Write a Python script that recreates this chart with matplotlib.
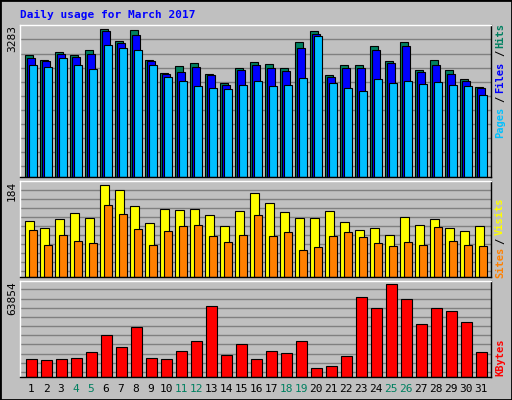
import matplotlib
matplotlib.use("Agg")
import matplotlib.pyplot as plt
import numpy as np
from matplotlib.patches import Rectangle

days = list(range(1, 32))
weekend = [4, 5, 11, 12, 18, 19, 25, 26]
hits = [2723, 2611, 2790, 2723, 2813, 3283, 3014, 3260, 2611, 2320, 2477, 2544, 2298, 2097, 2432, 2567,
        2522, 2432, 2992, 3238, 2276, 2499, 2499, 2902, 2589, 2992, 2388, 2611, 2388, 2186, 2007]
files = [2656, 2589, 2746, 2679, 2746, 3238, 2984, 3156, 2589, 2298, 2343, 2455, 2276, 2052, 2388, 2499,
         2432, 2365, 2858, 3171, 2231, 2432, 2432, 2835, 2544, 2902, 2343, 2499, 2298, 2141, 1985]
pages = [2499, 2455, 2656, 2499, 2410, 2925, 2858, 2813, 2499, 2231, 2141, 2029, 1985, 1962, 2052, 2141,
         2029, 2052, 2208, 3126, 2097, 1985, 1917, 2186, 2097, 2141, 2074, 2119, 2052, 2029, 1828]
visits = [112, 98, 116, 128, 118, 184, 174, 142, 108, 136, 134, 136, 124, 102, 132, 168,
          148, 130, 118, 118, 132, 110, 94, 98, 84, 120, 104, 116, 98, 92, 102]
sites = [94, 64, 84, 72, 68, 144, 126, 96, 64, 92, 102, 104, 82, 70, 84, 124,
         82, 90, 54, 60, 82, 90, 80, 68, 62, 70, 64, 100, 72, 64, 62]
kbytes = [12631, 11929, 12631, 13332, 17543, 28770, 20350, 34384, 13332, 12631, 18245, 24560, 49119, 15437,
          22454, 12631, 18245, 16841, 24560, 6315, 7719, 14736, 55434, 47716, 63854, 54031, 36488, 47716,
          45611, 37892, 17543]

BG = "#C0C0C0"
W, H = 512, 400
fig = plt.figure(figsize=(5.12, 4.0), dpi=100, facecolor=BG)
mono = "DejaVu Sans Mono"

def px_axes(x0, y0, x1, y1):
    return fig.add_axes([x0 / W, 1 - y1 / H, (x1 - x0) / W, (y1 - y0) / H])

x = np.arange(len(days))
pitch = 15.0
left = 5 + pitch * x

def setup(ax, top, grid):
    ax.set_facecolor(BG)
    ax.set_xlim(0, 471)
    ax.set_ylim(0, top)
    for g in grid:
        ax.axhline(g, color="#808080", lw=1, zorder=0)
    ax.set_xticks([]); ax.set_yticks([])
    for s in ax.spines.values():
        s.set_color("black"); s.set_linewidth(1)
    ax.spines["top"].set_color("white"); ax.spines["left"].set_color("white")

kw = dict(align="edge", edgecolor="black", linewidth=0.8, zorder=2)

ax1 = px_axes(20, 25, 491, 177)
setup(ax1, 3380, 239 + 313.4 * np.arange(10))
ax1.bar(left, hits, 7.5, color="#008060", **kw)
ax1.bar(left + 2.3, files, 7.5, color="#0000FF", **kw)
ax1.bar(left + 4, pages, 7.7, color="#00C0FF", **kw)

ax2 = px_axes(20, 181, 491, 277)
setup(ax2, 191, 12 + 18 * np.arange(10))
ax2.bar(left, visits, 8.7, color="#FFFF00", **kw)
ax2.bar(left + 4, sites, 7.7, color="#FF8000", **kw)

ax3 = px_axes(20, 281, 491, 377)
setup(ax3, 66194, 3508 + 6315 * np.arange(10))
ax3.bar(left + 1, kbytes, 10.7, color="#FF0000", **kw)

for i, d in enumerate(days):
    fig.text((20 + left[i] + 6) / W, 1 - 389 / H, str(d), ha="center", va="center",
             fontsize=8, family=mono, color="#008060" if d in weekend else "black")

for val, y in [("3283", 25), ("184", 181), ("63854", 281)]:
    fig.text(17 / W, 1 - y / H, val, rotation=90, ha="right", va="top", fontsize=8, family=mono)

def rlabel(txt, y, color):
    fig.text(500 / W, 1 - y / H, txt, rotation=90, ha="center", va="center", fontsize=7.5,
             family=mono, color=color, fontweight="bold")

rlabel("Hits", 36, "#008060"); rlabel("/", 53, "black"); rlabel("Files", 77, "#0000FF")
rlabel("/", 99, "black"); rlabel("Pages", 122, "#00C0FF")
rlabel("Visits", 216, "#FFFF00"); rlabel("/", 241, "black"); rlabel("Sites", 262, "#FF8000")
rlabel("KBytes", 357, "#FF0000")

fig.text(20 / W, 1 - 15 / H, "Daily usage for March 2017", ha="left", va="center",
         fontsize=8, family=mono, fontweight="bold", color="#0000FF")

fig.patches.append(Rectangle((0, 0), 1, 1, transform=fig.transFigure, fill=False,
                             edgecolor="black", linewidth=2))
fig.savefig("out.png", dpi=100, facecolor=BG)
